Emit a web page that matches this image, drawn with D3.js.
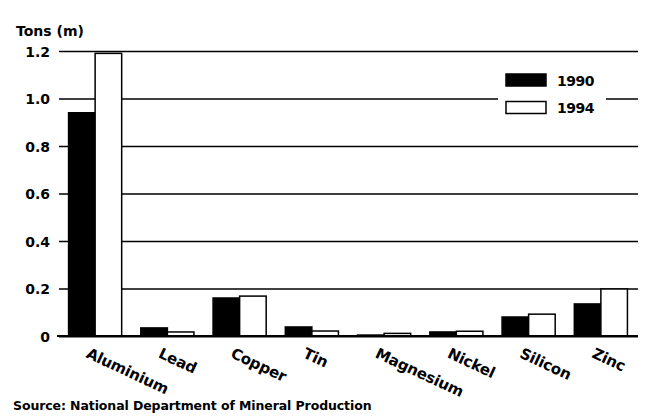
<!DOCTYPE html>
<html lang="en">
<head>
  <meta charset="UTF-8">
  <title>Metal production 1990 / 1994</title>
  <script src="https://d3js.org/d3.v7.min.js"></script>
  <style>
    body { margin: 0; background: #fff; }
    text { font-family: "DejaVu Sans", sans-serif; font-weight: bold; fill: #000; }
  </style>
</head>
<body>
  <svg width="654" height="418"></svg>
  <script>
  // values, million tons
  var categories = ["Aluminium", "Lead", "Copper", "Tin", "Magnesium", "Nickel", "Silicon", "Zinc"];
  var years = ["1990", "1994"];
  var v1990 = [0.94, 0.034, 0.16, 0.038, 0.004, 0.017, 0.08, 0.135];
  var v1994 = [1.19, 0.017, 0.168, 0.021, 0.011, 0.02, 0.092, 0.198];
  var yTicks = [0, 0.2, 0.4, 0.6, 0.8, 1.0, 1.2];

  var svg = d3.select("svg"),
    plotLeft = 59, plotRight = 638, plotTop = 51, plotBottom = 336;

  var data = categories.map(function(c, i) {
    return {cat: c, values: [{year: "1990", v: v1990[i]}, {year: "1994", v: v1994[i]}]};
  });

  var x0 = d3.scaleBand().domain(categories).range([plotLeft, plotRight - 1])
      .paddingInner(0.265).paddingOuter(0.1325);
  var x1 = d3.scaleBand().domain(years).range([0, x0.bandwidth()]);
  var y = d3.scaleLinear().domain([0, 1.2]).range([plotBottom, plotTop]);

  // grid lines + tick labels
  var yAxis = svg.append("g")
      .attr("transform", "translate(" + plotLeft + ",0)")
      .call(d3.axisLeft(y)
        .tickValues(yTicks)
        .tickSize(-(plotRight - plotLeft))
        .tickPadding(9)
        .tickFormat(function(d) { return d === 0 ? "0" : d3.format(".1f")(d); }));
  yAxis.select(".domain").remove();
  yAxis.selectAll(".tick line")
      .attr("stroke", "#000")
      .attr("stroke-width", function(d) { return d === 0 ? 2.2 : 1.5; });
  yAxis.selectAll(".tick text")
      .attr("font-size", 14)
      .attr("font-family", "DejaVu Sans")
      .attr("font-weight", "bold")
      .attr("dy", "0.36em");

  svg.append("text")
      .attr("x", 16)
      .attr("y", 36)
      .attr("font-size", 14)
      .text("Tons (m)");

  // legend sits on a white patch that hides the 1.0 grid line
  var legend = svg.append("g");
  legend.append("rect")
      .attr("x", 498).attr("y", 64).attr("width", 108).attr("height", 62)
      .attr("fill", "#fff");
  years.forEach(function(yr, i) {
    legend.append("rect")
        .attr("x", 506).attr("y", 74 + i * 27.5)
        .attr("width", 40).attr("height", 12)
        .attr("fill", i === 0 ? "#000" : "#fff")
        .attr("stroke", "#000").attr("stroke-width", 1.5);
    legend.append("text")
        .attr("x", 557).attr("y", 86 + i * 27)
        .attr("font-size", 14)
        .attr("letter-spacing", -0.5)
        .text(yr);
  });

  // bars
  var groups = svg.append("g").selectAll("g")
      .data(data)
      .enter().append("g")
      .attr("transform", function(d) { return "translate(" + x0(d.cat) + ",0)"; });

  groups.selectAll("rect")
      .data(function(d) { return d.values; })
      .enter().append("rect")
      .attr("x", function(d) { return x1(d.year); })
      .attr("y", function(d) { return y(d.v); })
      .attr("width", x1.bandwidth())
      .attr("height", function(d) { return plotBottom - y(d.v); })
      .attr("fill", function(d) { return d.year === "1990" ? "#000" : "#fff"; })
      .attr("stroke", "#000")
      .attr("stroke-width", 1.5);

  // baseline over the bar bottoms
  svg.append("line")
      .attr("x1", plotLeft - 2).attr("x2", plotRight)
      .attr("y1", y(0)).attr("y2", y(0))
      .attr("stroke", "#000").attr("stroke-width", 2.2);

  // slanted category names
  svg.append("g").selectAll("text")
      .data(categories)
      .enter().append("text")
      .attr("font-size", 15)
      .attr("letter-spacing", -0.2)
      .attr("transform", function(d) {
        var cx = x0(d) + x0.bandwidth() / 2;
        return "translate(" + (cx - 10) + ",357) rotate(25)";
      })
      .text(function(d) { return d; });

  svg.append("text")
      .attr("x", 13)
      .attr("y", 410)
      .attr("font-size", 12.5)
      .attr("letter-spacing", -0.1)
      .text("Source: National Department of Mineral Production");
  </script>
</body>
</html>
